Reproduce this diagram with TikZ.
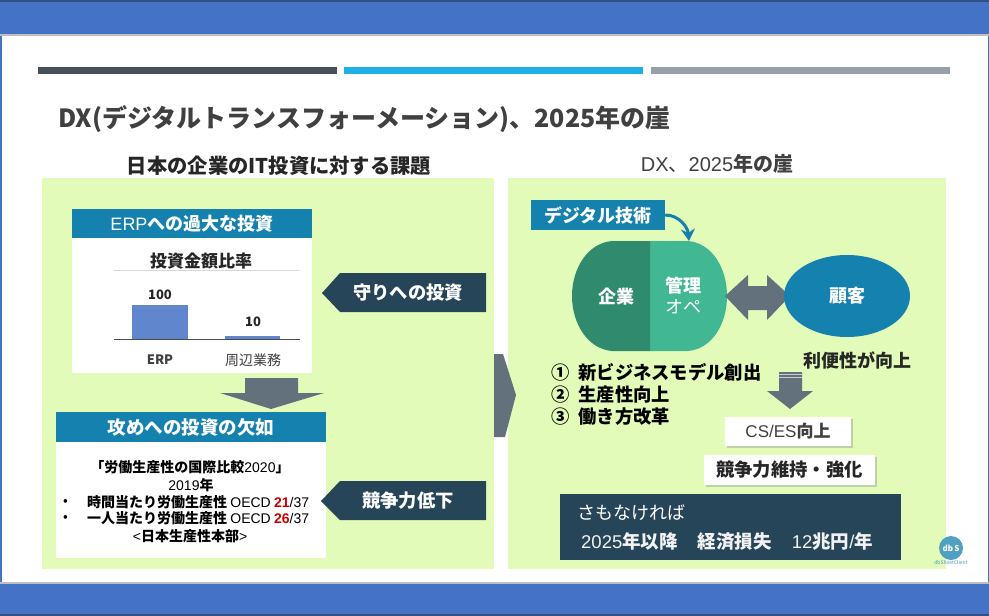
\documentclass[tikz,border=0pt]{standalone}
\usepackage{fontspec}
\setmainfont{Noto Sans CJK JP}
\newfontfamily\arial{Liberation Sans}
\usetikzlibrary{positioning,shadows,arrows.meta,shapes.geometric}
\definecolor{barblue}{HTML}{4472C4}
\definecolor{panelgreen}{HTML}{E2FBB8}
\definecolor{headblue}{HTML}{1581AE}
\definecolor{navy}{HTML}{264559}
\definecolor{slate}{HTML}{62717B}
\definecolor{darkgreen}{HTML}{2F8A6E}
\definecolor{lightgreen}{HTML}{41B893}
\definecolor{inkgray}{HTML}{404040}
\definecolor{stripedark}{HTML}{475058}
\definecolor{stripecyan}{HTML}{1FB0E6}
\definecolor{stripegray}{HTML}{979FA8}
\newcommand{\fs}[1]{\fontsize{#1}{#1}\selectfont}
\begin{document}
\begin{tikzpicture}[x=1pt, y=-1pt,
    panel/.style = {fill=panelgreen},
    head/.style = {fill=headblue, text=white, font=\fs{18}\bfseries, minimum height=29pt, inner sep=0pt},
    whitebox/.style = {fill=white, inner sep=0pt},
    sign/.style = {text=white, font=\fs{18.3}\bfseries},
    shadowbox/.style = {fill=white, inner sep=0pt, drop shadow={shadow xshift=2pt, shadow yshift=-2pt, opacity=0.35}},
    list/.style = {font=\fs{18.3}\bfseries, anchor=west, text=black},
    small/.style = {font=\fs{14}, text=black}]
    \useasboundingbox (0,0) rectangle (989,616);
    % frame
    \fill[white] (0,0) rectangle (989,616);
    \fill[barblue] (0,0) rectangle (989,35);
    \fill[barblue!70!black] (0,0) rectangle (989,2);
    \fill[gray!50] (0,34) rectangle (989,36);
    \fill[gray!50] (0,582) rectangle (989,584);
    \fill[barblue] (0,584) rectangle (989,616);
    \fill[barblue!70!black] (0,614) rectangle (989,616);
    \fill[barblue] (0,36) rectangle (1.5,582);
    \fill[barblue] (987.5,36) rectangle (989,582);
    % stripes
    \fill[stripedark] (38,67) rectangle (337,74);
    \fill[stripecyan] (344,67) rectangle (643,74);
    \fill[stripegray] (651,67) rectangle (950,74);
    % title
    \node[anchor=west, inner sep=0pt, font=\fs{25}\bfseries, text=inkgray] (title) at (58,119) {DX(デジタルトランスフォーメーション)、2025年の崖};
    \node[font=\fs{20.3}\bfseries, text=black!85, inner sep=0pt] (lefttitle) at (279,166) {日本の企業のIT投資に対する課題};
    \node[font=\fs{20}, text=inkgray, inner sep=0pt] (righttitle) at (717,164) {{\arial DX}、{\arial 2025}{\bfseries 年の崖}};
    % panels
    \fill[panel] (42,178) rectangle (494,569);
    \fill[panel] (508,178) rectangle (946,569);
    % upper left box
    \node[whitebox, minimum width=240pt, minimum height=135pt] (erpbox) at (192,305.5) {};
    \node[head, minimum width=240pt] (erphead) at (192,223.5) {{\arial\mdseries ERP}への過大な投資};
    \node[font=\fs{17}\bfseries, text=black!85, inner sep=0pt] (charttitle) at (201,261) {投資金額比率};
    \draw[gray!30] (114,270.5) -- (299,270.5);
    \fill[barblue!85!white] (132,305) rectangle (188,339);
    \fill[barblue!85!white] (225,335.5) rectangle (280,339);
    \draw[black!70, line width=0.8pt] (114,339) -- (300,339);
    \node[font=\fs{13}\bfseries, text=black!85, inner sep=0pt] (val1) at (160,295) {100};
    \node[font=\fs{13}\bfseries, text=black!85, inner sep=0pt] (val2) at (253,322) {10};
    \node[font=\fs{13}\bfseries, text=inkgray, inner sep=0pt] (cat1) at (160,360) {ERP};
    \node[font=\fs{14}, text=inkgray, inner sep=0pt] (cat2) at (253,360) {周辺業務};
    % arrows between
    \fill[slate] (245,378) -- (298,378) -- (298,393) -- (324,393) -- (271,409) -- (220,393) -- (245,393) -- cycle;
    \fill[slate] (494,354) -- (503,354) -- (516,395) -- (505,437) -- (494,437) -- cycle;
    % lower left box
    \node[whitebox, minimum width=270pt, minimum height=146pt] (laborbox) at (191,485) {};
    \node[head, minimum width=270pt, minimum height=30pt, font=\fs{18.5}\bfseries] (laborhead) at (191,427) {攻めへの投資の欠如};
    \node[small, inner sep=0pt] (line1) at (190,467) {\bfseries「労働生産性の国際比較{\arial\mdseries 2020}」};
    \node[small, inner sep=0pt] (line2) at (191,485) {{\arial 2019}\bfseries 年};
    \node[small, inner sep=0pt, anchor=west] (dot1) at (63,502) {•};
    \node[small, inner sep=0pt, anchor=west] (line3) at (87,502) {\bfseries 時間当たり労働生産性 {\arial\mdseries OECD} {\arial\color{red!80!black}21}{\arial\mdseries /37}};
    \node[small, inner sep=0pt, anchor=west] (dot2) at (63,518) {•};
    \node[small, inner sep=0pt, anchor=west] (line4) at (87,518) {\bfseries 一人当たり労働生産性 {\arial\mdseries OECD} {\arial\color{red!80!black}26}{\arial\mdseries /37}};
    \node[small, inner sep=0pt] (line5) at (190,536) {{\arial <}\bfseries 日本生産性本部{\arial\mdseries >}};
    % signs
    \fill[navy] (322,293) -- (340,273) -- (486,273) -- (486,312) -- (340,312) -- cycle;
    \node[sign, inner sep=0pt] (defense) at (408,293) {守りへの投資};
    \fill[navy] (321,501) -- (340,481) -- (486,481) -- (486,520) -- (340,520) -- cycle;
    \node[sign, inner sep=0pt] (decline) at (408,501) {競争力低下};
    % right side
    \fill[lightgreen] (650,241) -- (688,241) .. controls (712,243) and (727,268) .. (727,296) .. controls (727,324) and (712,349) .. (688,351) -- (650,351) -- cycle;
    \fill[darkgreen] (650,241) -- (612,241) .. controls (588,243) and (572,268) .. (572,296) .. controls (572,324) and (588,349) .. (612,351) -- (650,351) -- cycle;
    \coordinate (opetop) at (689,241);
    \node[fill=headblue, text=white, font=\fs{18}\bfseries, minimum width=134pt, minimum height=30pt, inner sep=0pt] (digital) at (598,215) {デジタル技術};
    \draw[headblue, line width=3pt, -{Stealth[length=12pt,width=14pt]}] (digital.east) to[out=0, in=95] (opetop);
    \node[text=white, font=\fs{18}\bfseries, inner sep=0pt] (company) at (616,297) {企業};
    \node[text=white, font=\fs{18}\bfseries, inner sep=0pt] (manage) at (683,286) {管理};
    \node[text=white, font=\fs{18}, inner sep=0pt] (ope) at (683,307) {オペ};
    \fill[slate] (725,296) -- (748,275) -- (748,286) -- (767,286) -- (767,275) -- (790,296) -- (767,320) -- (767,310) -- (748,310) -- (748,320) -- cycle;
    \node[ellipse, fill=headblue, minimum width=126pt, minimum height=82pt, inner sep=0pt, text=white, font=\fs{18}\bfseries] (customer) at (847,296) {顧客};
    \node[font=\fs{18}\bfseries, text=black!85, inner sep=0pt] (benefit) at (857,360) {利便性が向上};
    \node[list, inner sep=0pt] (item1) at (551,372) {①\hspace{9pt}新ビジネスモデル創出};
    \node[list, inner sep=0pt] (item2) at (551,395) {②\hspace{9pt}生産性向上};
    \node[list, inner sep=0pt] (item3) at (551,417) {③\hspace{9pt}働き方改革};
    \fill[slate] (779,372) -- (802,372) -- (802,391) -- (813,391) -- (790,409) -- (767,391) -- (779,391) -- cycle;
    \draw[gray!40] (779,374.5) -- (802,374.5);
    \draw[gray!40] (779,377) -- (802,377);
    \node[shadowbox, minimum width=126pt, minimum height=29pt, font=\fs{17}, text=inkgray] (csbox) at (788,431.5) {{\arial CS/ES}\bfseries 向上};
    \node[shadowbox, minimum width=171pt, minimum height=30pt, font=\fs{18.3}\bfseries, text=black!85] (keepbox) at (789.5,470) {競争力維持・強化};
    \node[fill=navy, minimum width=341pt, minimum height=66pt, inner sep=0pt] (warnbox) at (730.5,527) {};
    \node[text=white, font=\fs{18}, anchor=west, inner sep=0pt] (warn1) at (577,513) {さもなければ};
    \node[text=white!90!gray, font=\fs{18.5}, anchor=west, inner sep=0pt] (warn2) at (581,542) {{\arial 2025}\bfseries 年以降\hspace{20pt}経済損失\hspace{20pt}{\arial\mdseries 12}兆円{\arial\mdseries /}年};
    % logo
    \node[circle, fill=headblue!75!white, minimum size=24pt, inner sep=0pt, text=white, font=\fs{8}\bfseries] (logo) at (951,548) {db\,S};
    \node[font=\fs{5}, text=headblue!80!white, inner sep=0pt] (logotext) at (951,563) {dbSheetClient};
\end{tikzpicture}
\end{document}
